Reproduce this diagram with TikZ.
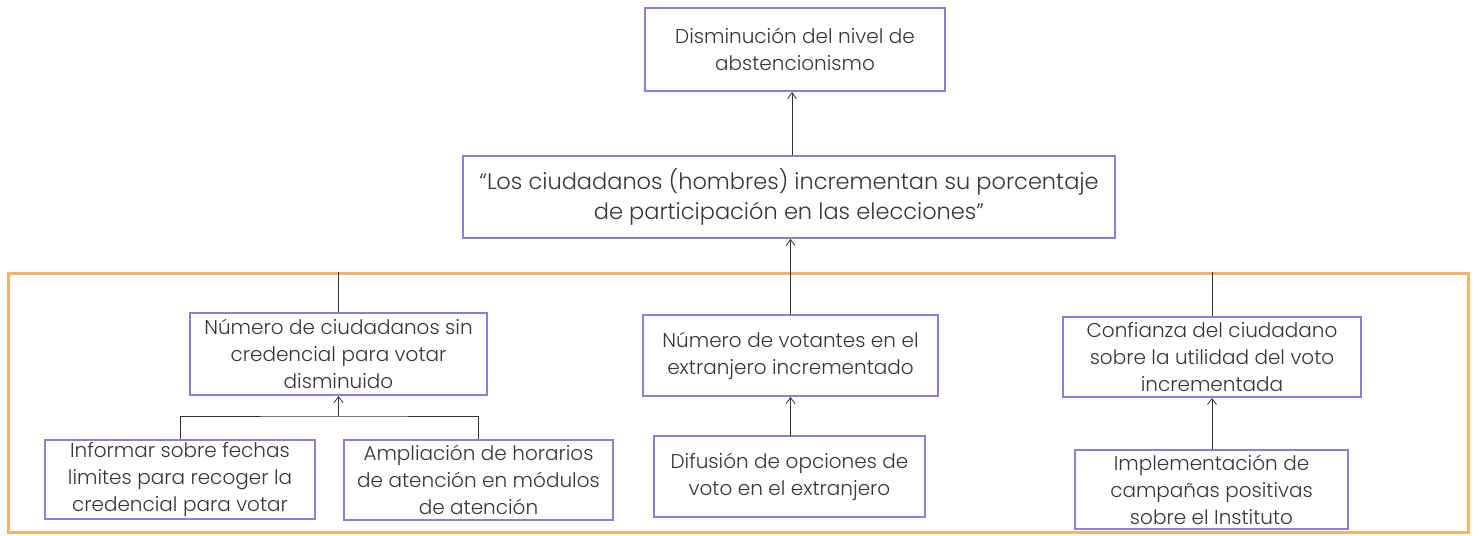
\documentclass[tikz,border=0pt]{standalone}
\usepackage{fontspec}
\setmainfont{Poppins}[UprightFont=* Light]
\usetikzlibrary{arrows.meta}
\definecolor{boxpurple}{RGB}{146,124,214}
\definecolor{frameorange}{RGB}{248,178,108}
\definecolor{txt}{RGB}{55,55,55}
\definecolor{linec}{RGB}{50,50,50}
\tikzset{
  box/.style={draw=boxpurple, line width=2pt, fill=white, inner sep=0pt, align=center, text=txt, font=\fontsize{20}{27}\selectfont},
  bigbox/.style={box, font=\fontsize{22.5}{30}\selectfont},
  framebox/.style={draw=frameorange, line width=3pt, inner sep=0pt},
  conn/.style={draw=linec, line width=0.8pt},
  arr/.style={conn, -{Straight Barb[length=6pt,width=9pt]}}
}
\begin{document}
\begin{tikzpicture}[x=1pt,y=-1pt]
\useasboundingbox (0,0) rectangle (1479,535);
\node[framebox, minimum width=1460pt, minimum height=259pt] (frame) at (738,402.5) {};
\node[box, minimum width=300pt, minimum height=83pt] (top) at (795,49.5) {Disminución del nivel de\\abstencionismo};
\node[bigbox, minimum width=652pt, minimum height=82pt] (mid) at (789,197) {“Los ciudadanos (hombres) incrementan su porcentaje\\de participación en las elecciones”};
\node[box, minimum width=297pt, minimum height=82pt] (L) at (338.5,354) {Número de ciudadanos sin\\credencial para votar\\disminuido};
\node[box, minimum width=295pt, minimum height=81pt] (C) at (790.5,355.5) {Número de votantes en el\\extranjero incrementado};
\node[box, minimum width=298pt, minimum height=80pt] (R) at (1212,357) {Confianza del ciudadano\\sobre la utilidad del voto\\incrementada};
\node[box, minimum width=270pt, minimum height=79pt] (L1) at (180,479.5) {Informar sobre fechas\\limites para recoger la\\credencial para votar};
\node[box, minimum width=269pt, minimum height=80pt] (L2) at (478.5,480) {Ampliación de horarios\\de atención en módulos\\de atención};
\node[box, minimum width=271pt, minimum height=81pt] (C1) at (789.5,476.5) {Difusión de opciones de\\voto en el extranjero};
\node[box, minimum width=273pt, minimum height=79pt] (R1) at (1211.5,489.5) {Implementación de\\campañas positivas\\sobre el Instituto};
\coordinate (br) at (338.5,416);
\draw[arr] (mid.north -| top.south) ++(-3,0) coordinate (m1) -- (m1 |- top.south);
\draw[arr] (C.north) -- (C.north |- mid.south);
\draw[conn] (L.north) -- (L.north |- frame.north);
\draw[conn] (R.north) -- (R.north |- frame.north);
\draw[conn] (L1.north) |- (br) -| (L2.north);
\draw[arr] (br) -- (L.south);
\draw[arr] (C1.north) -- (C1.north -| C.south) -- (C.south);
\draw[arr] (R1.north -| R.south) -- (R.south);
\end{tikzpicture}
\end{document}
